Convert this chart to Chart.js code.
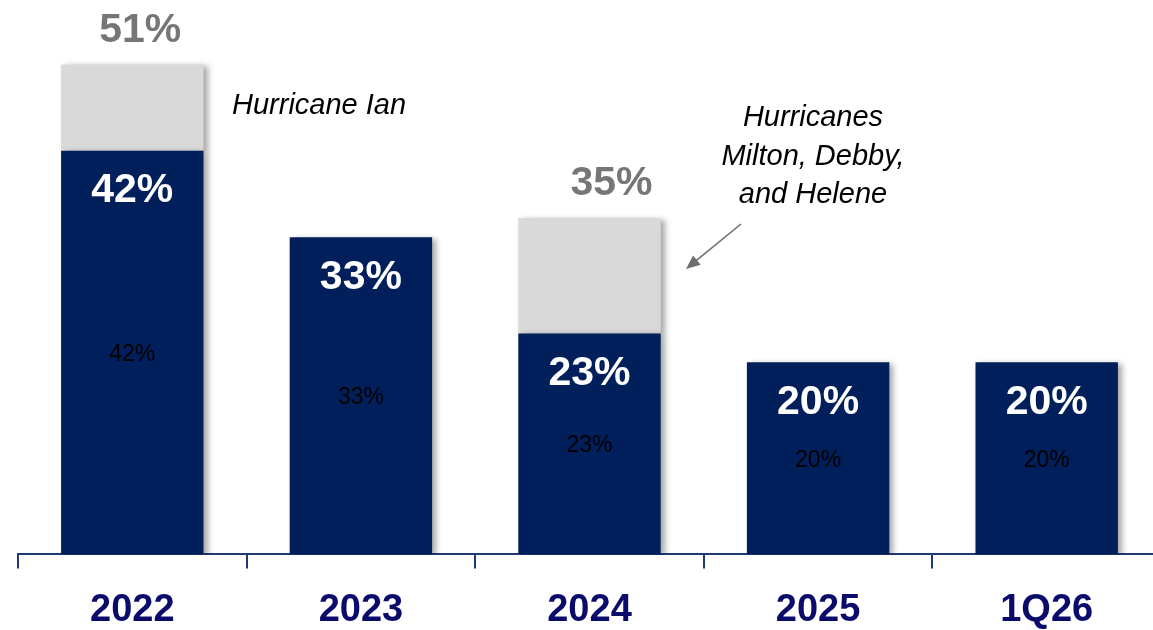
<!DOCTYPE html>
<html>
<head>
<meta charset="utf-8">
<script src="https://cdn.jsdelivr.net/npm/chart.js@4.4.1/dist/chart.umd.min.js"></script>
<style>
  html, body { margin: 0; padding: 0; background: #fff; overflow: hidden; }
  #wrap { position: relative; width: 1161px; height: 652px; }
</style>
</head>
<body>
<div id="wrap"><canvas id="ratioChart"></canvas></div>
<script>
// categorias e valores (%)
const categories = ['2022', '2023', '2024', '2025', '1Q26'];
const baseRatio = [42, 33, 23, 20, 20];
const hurricaneImpact = [9, 0, 12, 0, 0];

const NAVY = '#001f5b';
const LABEL_NAVY = '#0b0b6b';
const FONT = '"Liberation Sans", Arial, sans-serif';

// desenha rótulos e notas sobre as barras
const labelsPlugin = {
    id: 'barLabels',
    beforeDatasetsDraw(chart) {
        const ctx = chart.ctx;
        ctx.save();
        ctx.shadowColor = 'rgba(0,0,0,0.35)';
        ctx.shadowBlur = 6;
        ctx.shadowOffsetX = 4;
        ctx.shadowOffsetY = 2;
    },
    afterDatasetsDraw(chart, args, opts) {
        const ctx = chart.ctx;
        ctx.restore();
        ctx.save();
        const baseBars = chart.getDatasetMeta(0).data;
        const topBars = chart.getDatasetMeta(1).data;
        ctx.textAlign = 'center';
        ctx.textBaseline = 'middle';

        baseBars.forEach((bar, i) => {
            const top = bar.y;
            const bottom = bar.base;
            // valor em branco no topo da barra
            ctx.fillStyle = '#ffffff';
            ctx.font = 'bold 41px ' + FONT;
            ctx.fillText(baseRatio[i] + '%', bar.x, top + 40);
            // valor pequeno no meio
            ctx.fillStyle = '#000000';
            ctx.font = '23px ' + FONT;
            ctx.fillText(baseRatio[i] + '%', bar.x, (top + bottom) / 2 + 2);
        });

        // total com impacto de furacões
        topBars.forEach((bar, i) => {
            if (!hurricaneImpact[i]) return;
            const total = baseRatio[i] + hurricaneImpact[i];
            ctx.fillStyle = '#767676';
            ctx.font = 'bold 41px ' + FONT;
            ctx.fillText(total + '%', bar.x + (opts.totalShift[i] || 0), bar.y - 34);
        });

        // notas
        ctx.fillStyle = '#000000';
        ctx.font = 'italic 29px ' + FONT;
        ctx.textAlign = 'left';
        ctx.fillText('Hurricane Ian', 232, 106);
        ctx.textAlign = 'center';
        ['Hurricanes', 'Milton, Debby,', 'and Helene'].forEach((t, k) => {
            ctx.fillText(t, 813, 118 + k * 38.5);
        });

        // seta
        const x1 = 741, y1 = 224, x2 = 686, y2 = 269;
        const ang = Math.atan2(y2 - y1, x2 - x1);
        ctx.strokeStyle = '#6e6e6e';
        ctx.fillStyle = '#6e6e6e';
        ctx.lineWidth = 1.6;
        ctx.beginPath();
        ctx.moveTo(x1, y1);
        ctx.lineTo(x2 - 10 * Math.cos(ang), y2 - 10 * Math.sin(ang));
        ctx.stroke();
        ctx.beginPath();
        ctx.moveTo(x2, y2);
        ctx.lineTo(x2 - 14 * Math.cos(ang) + 6 * Math.sin(ang), y2 - 14 * Math.sin(ang) - 6 * Math.cos(ang));
        ctx.lineTo(x2 - 14 * Math.cos(ang) - 6 * Math.sin(ang), y2 - 14 * Math.sin(ang) + 6 * Math.cos(ang));
        ctx.closePath();
        ctx.fill();
        ctx.restore();
    }
};

new Chart(document.getElementById('ratioChart'), {
    type: 'bar',
    data: {
        labels: categories,
        datasets: [
            {
                label: 'Base',
                data: baseRatio,
                backgroundColor: NAVY,
                categoryPercentage: 1,
                barPercentage: 0.623
            },
            {
                label: 'Hurricanes',
                data: hurricaneImpact,
                backgroundColor: '#d9d9d9',
                categoryPercentage: 1,
                barPercentage: 0.623
            }
        ]
    },
    options: {
        responsive: true,
        maintainAspectRatio: false,
        animation: false,
        layout: { padding: { left: 18, right: 0, top: 0, bottom: 0 } },
        plugins: {
            legend: { display: false },
            tooltip: { enabled: false },
            barLabels: { totalShift: [8, 0, 22, 0, 0] }
        },
        scales: {
            x: {
                stacked: true,
                border: { display: true, color: '#1f3a78', width: 2 },
                grid: {
                    drawOnChartArea: false,
                    drawTicks: true,
                    tickLength: 14,
                    color: '#1f3a78',
                    lineWidth: 2
                },
                ticks: {
                    color: LABEL_NAVY,
                    font: { family: FONT, size: 38, weight: 'bold' },
                    padding: 19
                }
            },
            y: {
                stacked: true,
                display: false,
                min: 0,
                max: 57.7
            }
        }
    },
    plugins: [labelsPlugin]
});
</script>
</body>
</html>
